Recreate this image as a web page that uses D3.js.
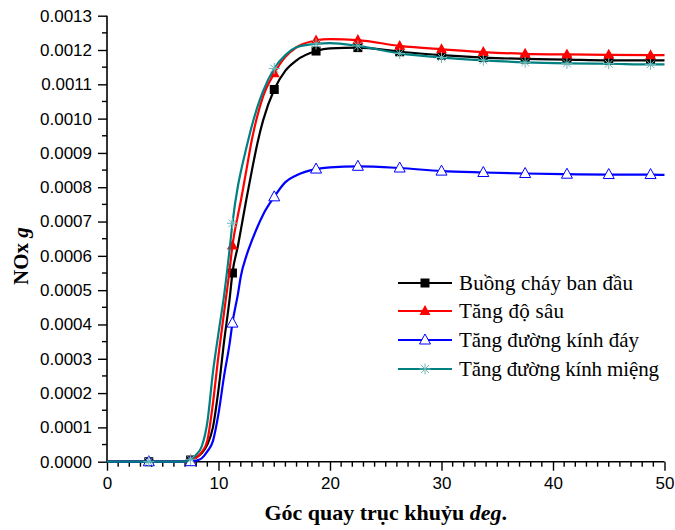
<!DOCTYPE html>
<html>
<head>
<meta charset="utf-8">
<script src="https://cdn.jsdelivr.net/npm/d3@7"></script>
<style>
  html, body { margin: 0; padding: 0; background: #fff; }
  svg { display: block; }
</style>
</head>
<body>
<svg id="chart" width="675" height="530"></svg>
<script>
// ---- data (NOx in g, versus crank angle in deg) ----
const angle = [0, 3.75, 7, 7.5, 8, 8.5, 9, 9.5, 10, 10.5, 11, 11.25, 11.75, 12, 12.5, 13, 13.5, 14, 15, 16, 17, 18.75, 20, 22.5, 26.25, 30, 33.75, 37.5, 41.25, 45, 48.75, 50];

const nox_base = [0, 0, 0, 0.000005, 0.000012, 0.000025, 0.00005, 0.0001, 0.00021, 0.00035, 0.000475, 0.00055, 0.00063, 0.000675, 0.000765, 0.00085, 0.00093, 0.000995, 0.001085, 0.00114, 0.00117, 0.001197, 0.001205, 0.001207, 0.001195, 0.001185, 0.001178, 0.001174, 0.001172, 0.00117, 0.00117, 0.00117];
const nox_depth = [0, 0, 0, 0.000004, 0.000012, 0.000028, 0.000062, 0.00017, 0.00031, 0.000435, 0.00056, 0.00063, 0.00072, 0.00076, 0.00085, 0.00094, 0.00101, 0.001065, 0.001132, 0.00118, 0.001208, 0.001228, 0.001232, 0.001229, 0.001212, 0.001202, 0.001194, 0.001189, 0.001187, 0.001186, 0.001185, 0.001185];
const nox_bottom = [0, 0, 0, 0, 0.000003, 0.00001, 0.00003, 0.00006, 0.00014, 0.00025, 0.000345, 0.000404, 0.00049, 0.00054, 0.0006, 0.000645, 0.000685, 0.00072, 0.000772, 0.000815, 0.000835, 0.000853, 0.000858, 0.000861, 0.000856, 0.000847, 0.000843, 0.00084, 0.000838, 0.000837, 0.000837, 0.000836];
const nox_mouth = [0, 0, 0, 0.000007, 0.00002, 0.000045, 0.000115, 0.00026, 0.000375, 0.000485, 0.00062, 0.000695, 0.000805, 0.000845, 0.000915, 0.00098, 0.001035, 0.00108, 0.001146, 0.001185, 0.001208, 0.001218, 0.00122, 0.001212, 0.00119, 0.001178, 0.00117, 0.001164, 0.001161, 0.00116, 0.001158, 0.001158];

const seriesNames = ["Buồng cháy ban đầu", "Tăng độ sâu", "Tăng đường kính đáy", "Tăng đường kính miệng"];
const xTicks = [0, 10, 20, 30, 40, 50];
const yTicks = [0, 0.0001, 0.0002, 0.0003, 0.0004, 0.0005, 0.0006, 0.0007, 0.0008, 0.0009, 0.0010, 0.0011, 0.0012, 0.0013];

// ---- layout ----
const svg = d3.select("#chart");
const x = d3.scaleLinear().domain([0, 50]).range([107, 664.5]);
const y = d3.scaleLinear().domain([0, 0.0013]).range([461.7, 15.7]);

const series = [
  { name: seriesNames[0], values: nox_base,   color: "#000000", marker: "square" },
  { name: seriesNames[1], values: nox_depth,  color: "#ff0000", marker: "tri" },
  { name: seriesNames[2], values: nox_bottom, color: "#0000ff", marker: "otri" },
  { name: seriesNames[3], values: nox_mouth,  color: "#008080", marker: "star" }
];

// ---- axes ----
const tickFont = "'Liberation Sans', Arial, sans-serif";

// y axis
const yAxis = d3.axisLeft(y).tickValues(yTicks).tickSize(9).tickPadding(6)
  .tickFormat(d => d.toFixed(4));
const gy = svg.append("g").attr("transform", "translate(107,0)").call(yAxis);
gy.select(".domain").attr("stroke", "#000").attr("stroke-width", 1.6).attr("d", `M0,${y(0.0013)}V${y(0)}`);
gy.selectAll(".tick line").attr("stroke", "#000").attr("stroke-width", 1.4);
gy.selectAll(".tick text").attr("font-family", tickFont).attr("font-size", 17).attr("fill", "#000");
const yMinor = d3.range(0.00005, 0.0013, 0.0001);
gy.selectAll(".minor").data(yMinor).enter().append("line")
  .attr("x1", -5).attr("x2", 0).attr("y1", d => y(d)).attr("y2", d => y(d))
  .attr("stroke", "#000").attr("stroke-width", 1.4);

// x axis
const xAxis = d3.axisBottom(x).tickValues(xTicks).tickSize(9).tickPadding(6);
const gx = svg.append("g").attr("transform", `translate(0,${y(0)})`).call(xAxis);
gx.select(".domain").attr("stroke", "#000").attr("stroke-width", 1.6).attr("d", `M${x(0)},0H${x(50)}`);
gx.selectAll(".tick line").attr("stroke", "#000").attr("stroke-width", 1.4);
gx.selectAll(".tick text").attr("font-family", tickFont).attr("font-size", 17).attr("fill", "#000");
const xMinor = d3.range(1, 50, 1).filter(d => d % 10 !== 0);
gx.selectAll(".minor").data(xMinor).enter().append("line")
  .attr("x1", d => x(d)).attr("x2", d => x(d)).attr("y1", 0).attr("y2", 5)
  .attr("stroke", "#000").attr("stroke-width", 1.4);

// axis titles
const serif = "'Liberation Serif', 'Times New Roman', serif";
const xt = svg.append("text").attr("x", (x(0) + x(50)) / 2).attr("y", 520)
  .attr("text-anchor", "middle").attr("font-family", serif).attr("font-size", 22).attr("font-weight", "bold");
xt.append("tspan").text("Góc quay trục khuỷu ");
xt.append("tspan").attr("font-style", "italic").text("deg");
xt.append("tspan").text(".");

const yt = svg.append("text").attr("transform", "translate(28,256) rotate(-90)")
  .attr("text-anchor", "middle").attr("font-family", serif).attr("font-size", 21).attr("font-weight", "bold");
yt.append("tspan").text("NOx ");
yt.append("tspan").attr("font-style", "italic").text("g");

// ---- markers ----
function drawMarker(g, type, color, cx, cy) {
  if (type === "square") {
    g.append("rect").attr("x", cx - 4.5).attr("y", cy - 4.5).attr("width", 9).attr("height", 9).attr("fill", color);
  } else if (type === "tri") {
    g.append("path").attr("d", `M${cx},${cy - 6}L${cx + 5.5},${cy + 4}L${cx - 5.5},${cy + 4}Z`).attr("fill", color);
  } else if (type === "otri") {
    g.append("path").attr("d", `M${cx},${cy - 6}L${cx + 5.5},${cy + 4}L${cx - 5.5},${cy + 4}Z`)
      .attr("fill", "#fff").attr("stroke", color).attr("stroke-width", 1);
  } else if (type === "star") {
    const r = 5.5, c = "#6fb8b8";
    const p = [];
    for (let i = 0; i < 4; i++) {
      const a = i * Math.PI / 4;
      p.push(`M${cx - r * Math.cos(a)},${cy - r * Math.sin(a)}L${cx + r * Math.cos(a)},${cy + r * Math.sin(a)}`);
    }
    g.append("path").attr("d", p.join("")).attr("stroke", c).attr("stroke-width", 1).attr("fill", "none");
  }
}

// ---- lines ----
const line = d3.line().x(d => x(d[0])).y(d => y(d[1])).curve(d3.curveMonotoneX);
const plot = svg.append("g");
series.forEach(s => {
  const pts = angle.map((a, i) => [a, s.values[i]]);
  plot.append("path").datum(pts).attr("d", line).attr("fill", "none")
    .attr("stroke", s.color).attr("stroke-width", 2.2).attr("stroke-linejoin", "round");
  const mg = plot.append("g");
  pts.filter(p => p[0] > 0 && Math.abs(p[0] / 3.75 - Math.round(p[0] / 3.75)) < 1e-9)
    .forEach(p => drawMarker(mg, s.marker, s.color, x(p[0]), y(p[1])));
});

// ---- legend ----
const legY = [283, 311, 340, 369];
const legW = [174, 105, 180, 200];
const leg = svg.append("g");
series.forEach((s, i) => {
  leg.append("line").attr("x1", 398).attr("x2", 452).attr("y1", legY[i]).attr("y2", legY[i])
    .attr("stroke", s.color).attr("stroke-width", 2);
  drawMarker(leg, s.marker, s.color, 425, legY[i]);
  leg.append("text").attr("x", 459).attr("y", legY[i] + 7)
    .attr("font-family", serif).attr("font-size", 21)
    .attr("textLength", legW[i]).attr("lengthAdjust", "spacing")
    .text(s.name);
});
</script>
</body>
</html>
